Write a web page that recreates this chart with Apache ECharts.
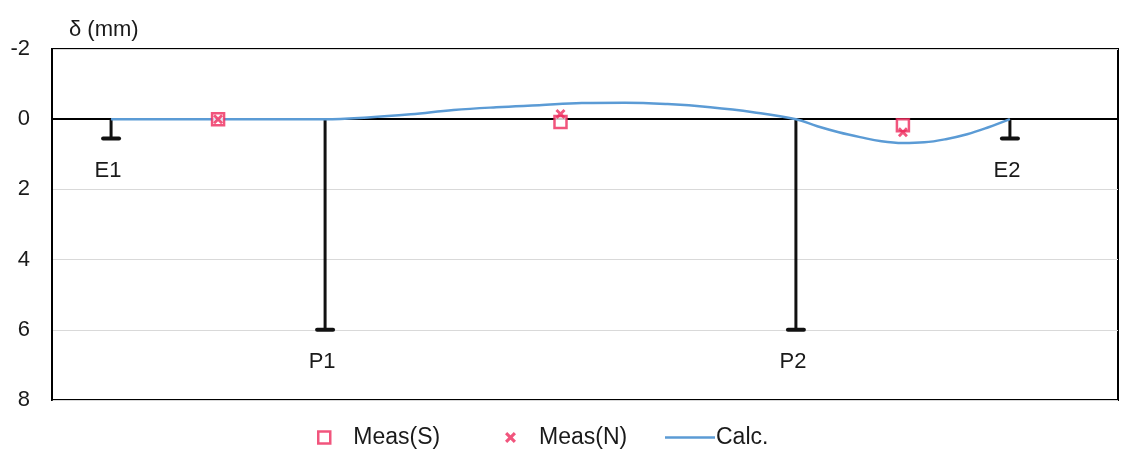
<!DOCTYPE html>
<html>
<head>
<meta charset="utf-8">
<script src="https://cdn.jsdelivr.net/npm/echarts@6/dist/echarts.min.js"></script>
<style>
  html, body { margin: 0; padding: 0; background: #fff; }
  #chart { width: 1125px; height: 456px; }
</style>
</head>
<body>
<div id="chart"></div>
<script>
// Beam position (m) and deflection (mm, positive = downward)
const supportNames = ['E1', 'P1', 'P2', 'E2'];
const supportX = [0, 10, 32, 42];
const supportDepth = [0.55, 6, 6, 0.55];

const measX = [5, 21, 37];
const measS = [0, 0.08, 0.17];
const measN = [0, -0.15, 0.37];

const calcX = [0, 2, 4, 6, 8, 10, 12, 14, 16, 18, 20, 22, 24, 26, 28, 30, 32,
               33, 34, 35, 36, 37, 38, 39, 40, 41, 42];
const calcY = [0, 0, 0, 0, 0, 0, -0.05, -0.14, -0.26, -0.34, -0.40, -0.46, -0.47, -0.43, -0.34, -0.20, 0,
               0.20, 0.37, 0.51, 0.63, 0.68, 0.66, 0.57, 0.43, 0.23, 0];

const yTicks = [-2, 0, 2, 4, 6, 8];

const FONT = '"Liberation Sans", Arial, sans-serif';
const TEXT = '#1a1a1a';
const RED = '#ee2a5c';
const BLUE = '#5b9bd5';
const CROSS = 'path://M0,2 L2,0 L5,3 L8,0 L10,2 L7,5 L10,8 L8,10 L5,7 L2,10 L0,8 L3,5 Z';

const chart = echarts.init(document.getElementById('chart'), null, { renderer: 'canvas' });

chart.setOption({
  backgroundColor: '#fff',
  animation: false,
  title: {
    text: 'δ (mm)',
    left: 64, top: 14,
    textStyle: { fontFamily: FONT, fontSize: 22, fontWeight: 'normal', color: TEXT }
  },
  grid: {
    left: 52, right: 7, top: 49, bottom: 56,
    show: true, borderColor: '#000', borderWidth: 2, backgroundColor: '#fff'
  },
  xAxis: {
    type: 'value', min: -2.76, max: 47.05,
    axisLine: { show: true, onZero: true, lineStyle: { color: '#000', width: 2 } },
    axisTick: { show: false }, axisLabel: { show: false }, splitLine: { show: false }
  },
  yAxis: {
    type: 'value', inverse: true,
    min: yTicks[0], max: yTicks[yTicks.length - 1], interval: 2,
    axisLine: { show: true, onZero: false, lineStyle: { color: '#000', width: 2 } },
    axisTick: { show: false },
    axisLabel: { margin: 22, fontFamily: FONT, fontSize: 22, color: TEXT },
    splitLine: { show: true, lineStyle: { color: '#d9d9d9', width: 1.2 } }
  },
  legend: [
    {
      data: [{ name: 'Meas(S)', icon: 'rect', itemStyle: { color: '#fff', borderColor: RED, borderWidth: 2.5 } }],
      left: 312, bottom: 2, itemWidth: 12, itemHeight: 12,
      textStyle: { fontFamily: FONT, fontSize: 23, color: TEXT, padding: [0, 0, 0, 18] }
    },
    {
      data: [{ name: 'Meas(N)', icon: CROSS, itemStyle: { color: RED } }],
      left: 500, bottom: 2, itemWidth: 11, itemHeight: 11,
      textStyle: { fontFamily: FONT, fontSize: 23, color: TEXT, padding: [0, 0, 0, 18] }
    },
    {
      data: [{ name: 'Calc.', icon: 'rect', itemStyle: { color: BLUE } }],
      left: 660, bottom: 2, itemWidth: 50, itemHeight: 2.5,
      textStyle: { fontFamily: FONT, fontSize: 23, color: TEXT, padding: [0, 0, 0, -4] }
    }
  ],
  series: [
    {
      name: 'supports',
      type: 'custom',
      z: 2,
      data: supportX.map((x, i) => [x, supportDepth[i]]),
      renderItem: function (params, api) {
        const x = api.value(0);
        const d = api.value(1);
        const top = api.coord([x, 0]);
        const bot = api.coord([x, d]);
        return {
          type: 'group',
          children: [
            { type: 'line', shape: { x1: top[0], y1: top[1], x2: bot[0], y2: bot[1] },
              style: { stroke: '#111', lineWidth: 3 } },
            { type: 'line', shape: { x1: bot[0] - 8, y1: bot[1], x2: bot[0] + 8, y2: bot[1] },
              style: { stroke: '#111', lineWidth: 4, lineCap: 'round' } },
            { type: 'text', x: bot[0] - 3, y: bot[1] + 32,
              style: { text: supportNames[params.dataIndex], font: '22px ' + FONT, fill: TEXT,
                       align: 'center', verticalAlign: 'middle' } }
          ]
        };
      }
    },
    {
      name: 'Calc.',
      type: 'line',
      z: 4,
      smooth: 0.4,
      symbol: 'none',
      data: calcX.map((x, i) => [x, calcY[i]]),
      lineStyle: { color: BLUE, width: 2.5 },
      itemStyle: { color: BLUE }
    },
    {
      name: 'Meas(S)',
      type: 'scatter',
      z: 5,
      symbol: 'rect',
      symbolSize: 12,
      data: measX.map((x, i) => [x, measS[i]]),
      itemStyle: { color: '#fff', borderColor: RED, borderWidth: 2.5 }
    },
    {
      name: 'Meas(N)',
      type: 'scatter',
      z: 6,
      symbol: CROSS,
      symbolSize: 10,
      data: measX.map((x, i) => [x, measN[i]]),
      itemStyle: { color: RED }
    }
  ]
});
</script>
</body>
</html>
